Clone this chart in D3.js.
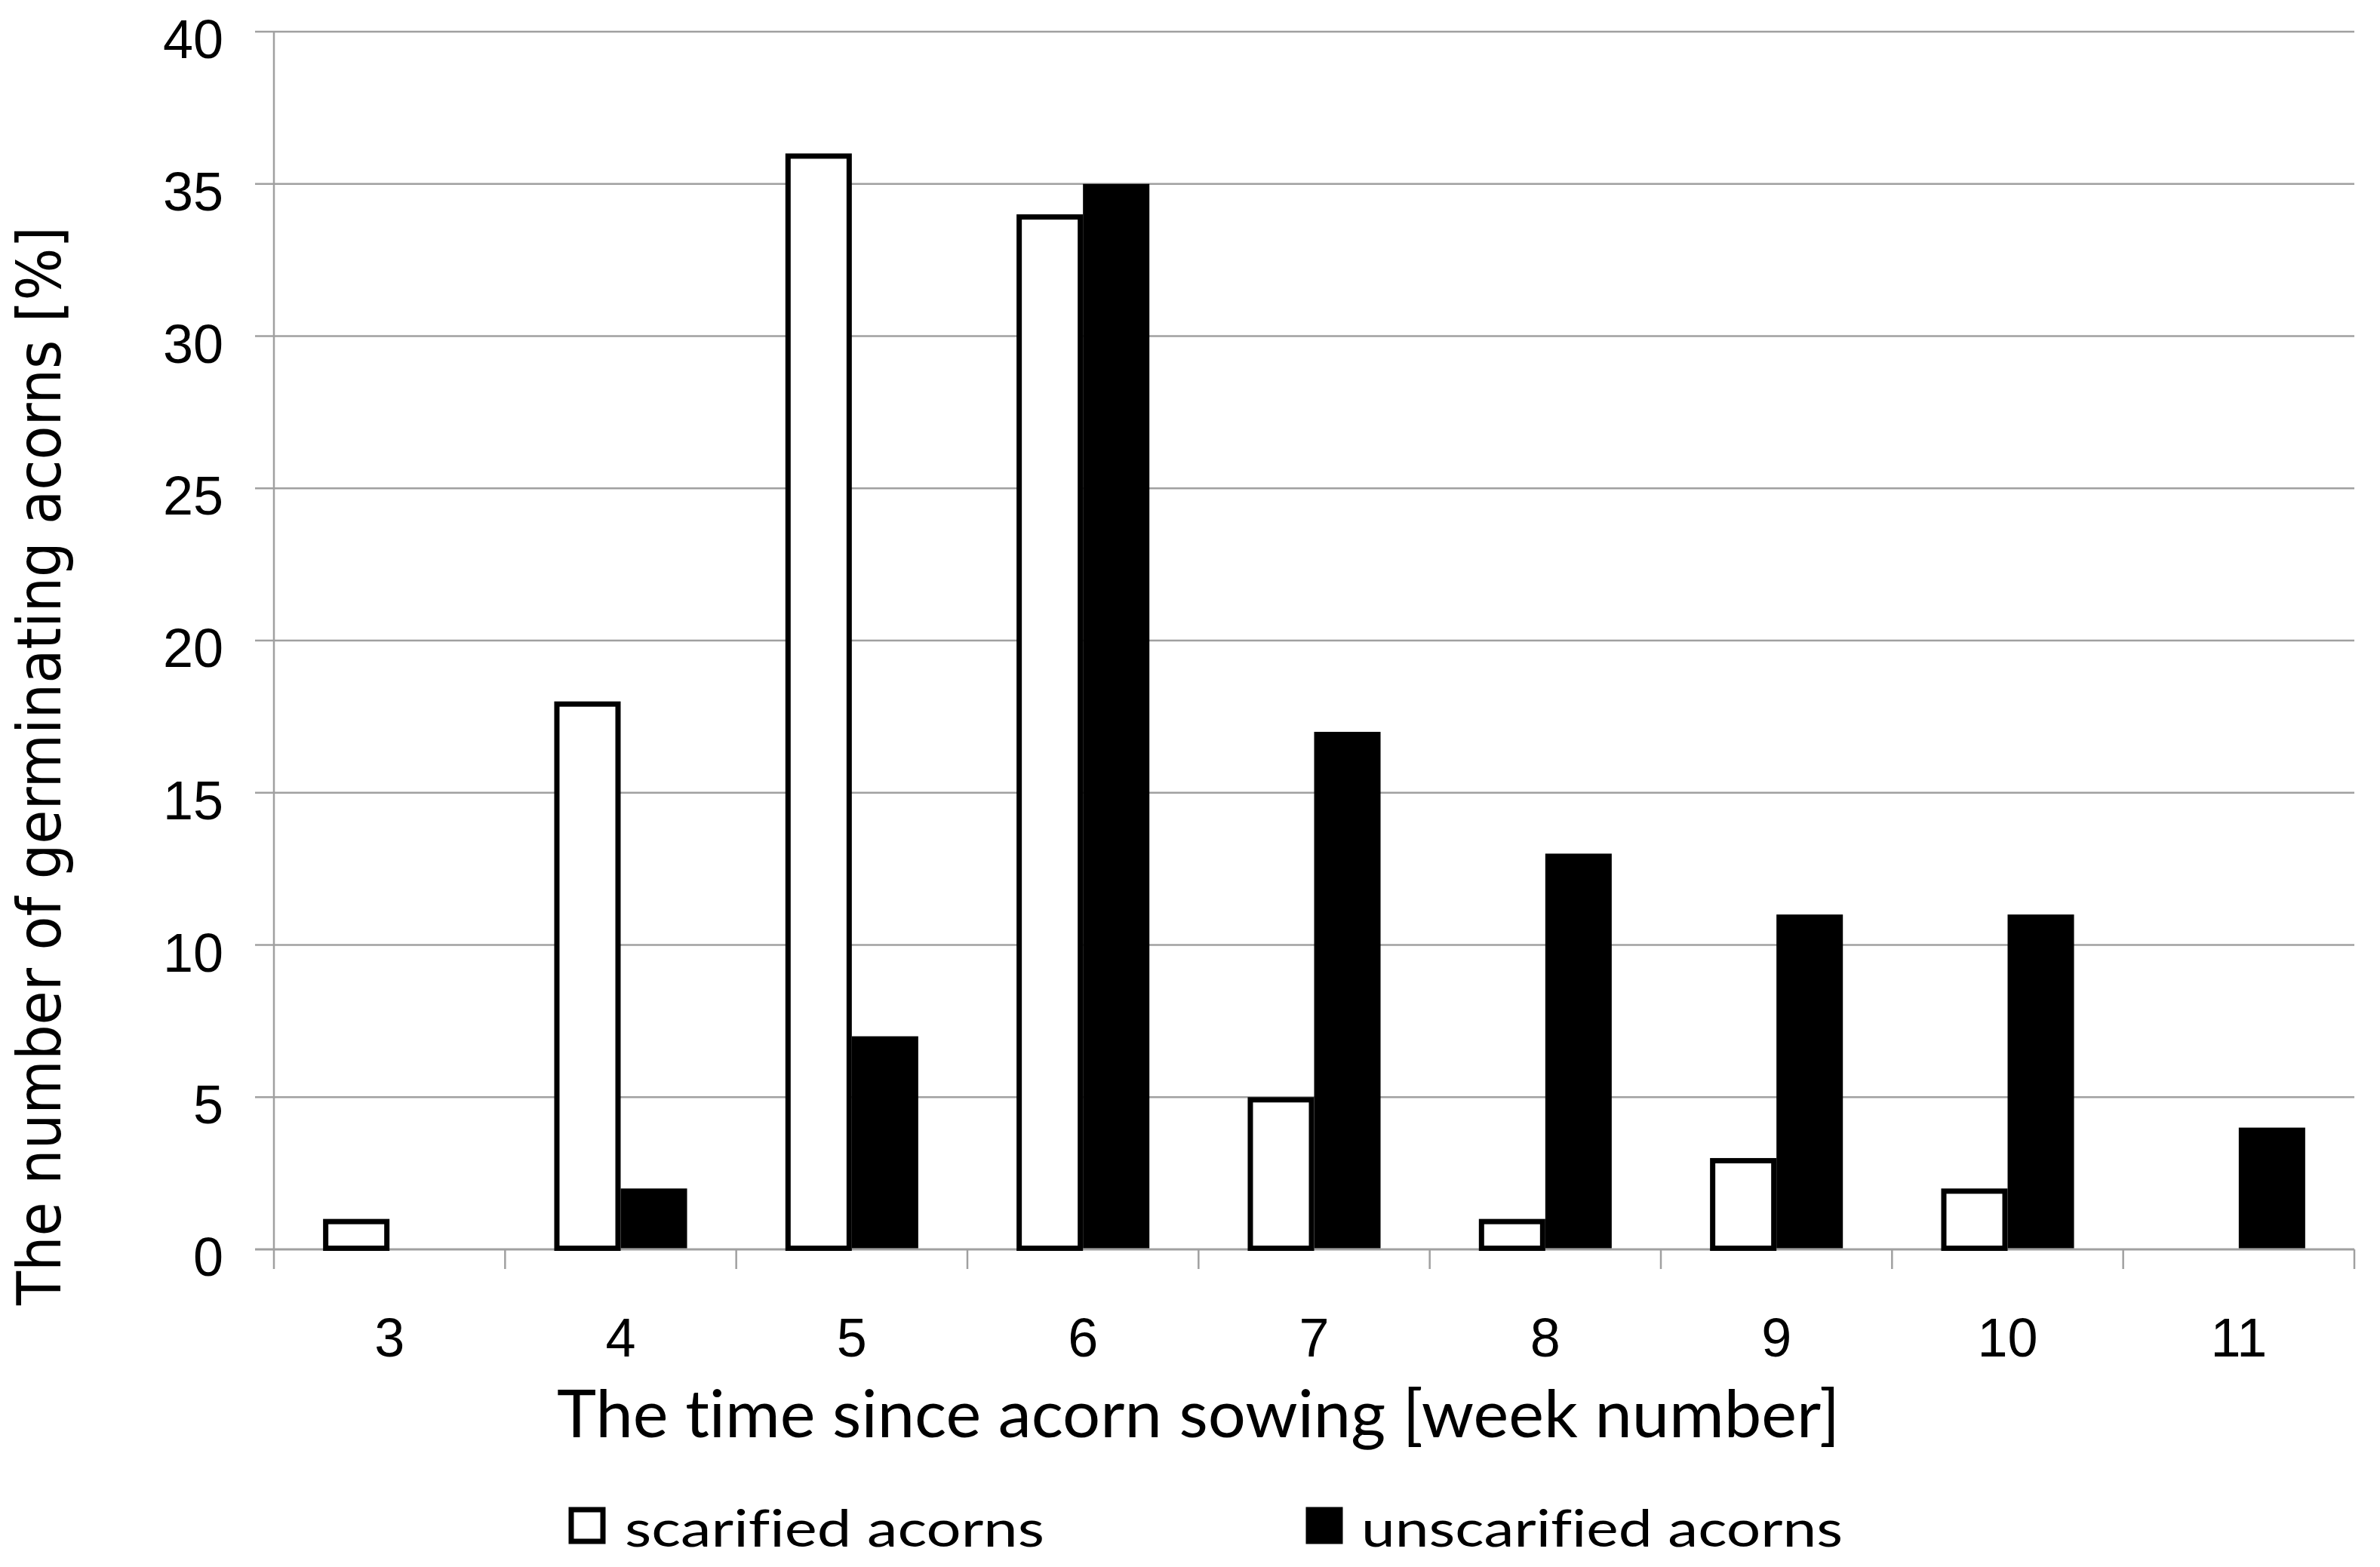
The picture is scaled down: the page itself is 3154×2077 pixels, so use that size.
<!DOCTYPE html>
<html lang="en">
<head>
    <meta charset="UTF-8">
    <title>Germinating acorns</title>
    <script src="https://d3js.org/d3.v7.min.js"></script>
    <style>
        body { margin: 0; background: #fff; }
        svg { display: block; }
        text { font-variant-ligatures: none; }
    </style>
</head>
<body>
    <svg id="chart" width="3154" height="2077"></svg>
    <script>
        // data
        const weeks = ["3", "4", "5", "6", "7", "8", "9", "10", "11"];
        const seriesNames = ["scarified acorns", "unscarified acorns"];
        const scarified = [1, 18, 36, 34, 5, 1, 3, 2, 0];
        const unscarified = [0, 2, 7, 35, 17, 13, 11, 11, 4];
        const yTicks = [0, 5, 10, 15, 20, 25, 30, 35, 40];

        const svg = d3.select("#chart");
        const plotLeft = 363, plotRight = 3120, plotTop = 42, plotBottom = 1656;
        const gridColor = "#a0a0a0";
        const tickFont = "'Liberation Sans', Arial, sans-serif";
        const titleFont = "Lato, 'Open Sans', sans-serif";

        const y = d3.scaleLinear().domain([0, 40]).range([plotBottom, plotTop]);
        const x0 = d3.scaleBand().domain(weeks).range([plotLeft, plotRight]).padding(0);
        const x1 = d3.scaleBand().domain(seriesNames)
            .range([0, x0.bandwidth()]).paddingInner(0).paddingOuter(0.74);

        // horizontal gridlines (extend left as tick marks)
        svg.append("g").selectAll("line").data(yTicks).join("line")
            .attr("x1", plotLeft - 25).attr("x2", plotRight)
            .attr("y1", d => y(d)).attr("y2", d => y(d))
            .style("stroke", gridColor)
            .style("stroke-width", d => d === 0 ? 3 : 2.5);

        // vertical axis line
        svg.append("line")
            .attr("x1", plotLeft).attr("x2", plotLeft)
            .attr("y1", plotTop).attr("y2", plotBottom + 26)
            .style("stroke", gridColor).style("stroke-width", 2.5);

        // category boundary ticks under the axis
        const bounds = weeks.map(w => x0(w)).concat([plotRight]);
        svg.append("g").selectAll("line").data(bounds.slice(1)).join("line")
            .attr("x1", d => d).attr("x2", d => d)
            .attr("y1", plotBottom).attr("y2", plotBottom + 26)
            .style("stroke", gridColor).style("stroke-width", 2.5);

        // y tick labels
        svg.append("g").selectAll("text").data(yTicks).join("text")
            .attr("x", 296).attr("y", d => y(d) + 35)
            .attr("text-anchor", "end")
            .style("font-family", tickFont).style("font-size", "72px")
            .text(d => d);

        // x tick labels
        svg.append("g").selectAll("text").data(weeks).join("text")
            .attr("x", d => x0(d) + x0.bandwidth() / 2).attr("y", 1798)
            .attr("text-anchor", "middle")
            .style("font-family", tickFont).style("font-size", "72px")
            .text(d => d);

        // bars
        const groups = svg.append("g").selectAll("g").data(weeks).join("g")
            .attr("transform", d => `translate(${x0(d)},0)`);

        groups.append("rect")
            .attr("x", x1(seriesNames[0]) + 3.5)
            .attr("width", x1.bandwidth() - 7)
            .attr("y", (d, i) => y(scarified[i]) + 3.5)
            .attr("height", (d, i) => Math.max(0, plotBottom - y(scarified[i]) - 5))
            .style("fill", "#fff").style("stroke", "#000").style("stroke-width", 7)
            .style("display", (d, i) => scarified[i] > 0 ? null : "none");

        groups.append("rect")
            .attr("x", x1(seriesNames[1]))
            .attr("width", x1.bandwidth())
            .attr("y", (d, i) => y(unscarified[i]))
            .attr("height", (d, i) => plotBottom - 1.5 - y(unscarified[i]))
            .style("fill", "#000")
            .style("display", (d, i) => unscarified[i] > 0 ? null : "none");

        // axis titles
        svg.append("text")
            .attr("x", 1588).attr("y", 1905)
            .attr("text-anchor", "middle")
            .attr("textLength", 1700).attr("lengthAdjust", "spacingAndGlyphs")
            .style("font-family", titleFont).style("font-size", "88px")
            .text("The time since acorn sowing [week number]");

        svg.append("text")
            .attr("transform", "translate(80,1015) rotate(-90)")
            .attr("text-anchor", "middle")
            .attr("textLength", 1430).attr("lengthAdjust", "spacingAndGlyphs")
            .style("font-family", "'DejaVu Sans', sans-serif").style("font-size", "80px")
            .text("The number of germinating acorns [%]");

        // legend
        const legend = [
            { name: seriesNames[0], sx: 757, tx: 828, tlen: 556, fill: "#fff" },
            { name: seriesNames[1], sx: 1734, tx: 1804, tlen: 638, fill: "#000" }
        ];
        const lg = svg.append("g").selectAll("g").data(legend).join("g");
        lg.append("rect")
            .attr("x", d => d.sx).attr("y", 2001)
            .attr("width", 42).attr("height", 42)
            .style("fill", d => d.fill).style("stroke", "#000").style("stroke-width", 7);
        lg.append("text")
            .attr("x", d => d.tx).attr("y", 2050)
            .attr("textLength", d => d.tlen).attr("lengthAdjust", "spacingAndGlyphs")
            .style("font-family", titleFont).style("font-size", "68px")
            .text(d => d.name);
    </script>
</body>
</html>
